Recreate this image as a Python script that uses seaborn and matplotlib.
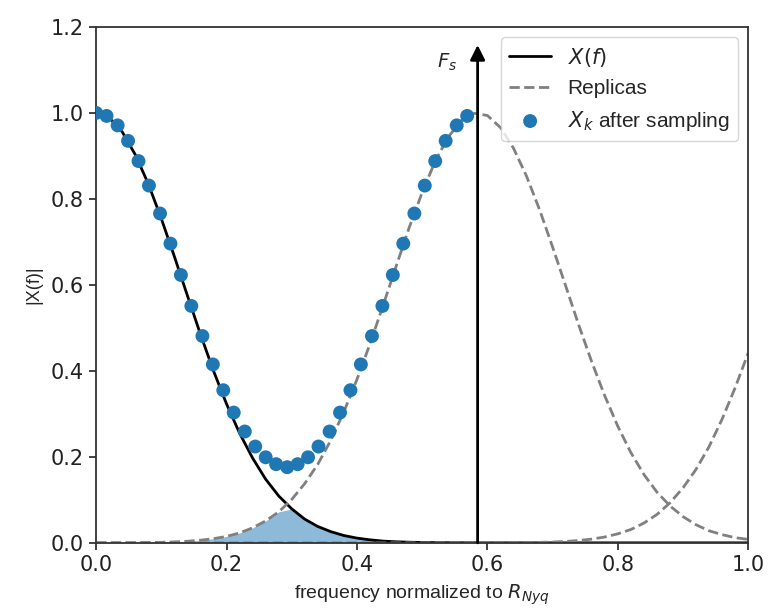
import numpy as np
import seaborn as sns
import matplotlib.pyplot as plt

# frequency grid for the continuous curves (normalized to R_Nyq)
freq = np.round(np.arange(0, 51) * 0.02, 2)

# |X(f)|
x_f = [1.000, 0.989, 0.956, 0.903, 0.835, 0.754, 0.666, 0.575, 0.485, 0.400,
       0.323, 0.255, 0.197, 0.148, 0.109, 0.079, 0.055, 0.038, 0.026, 0.017,
       0.011, 0.007, 0.004, 0.0025, 0.0015, 0.0009, 0.0005, 0.0003, 0.0002, 0.0001,
       0.0, 0.0, 0.0, 0.0, 0.0, 0.0, 0.0, 0.0, 0.0, 0.0,
       0.0, 0.0, 0.0, 0.0, 0.0, 0.0, 0.0, 0.0, 0.0, 0.0, 0.0]

# replica centred on Fs
replica_1 = [0.0001, 0.0001, 0.0002, 0.0004, 0.0007, 0.0013, 0.0022, 0.0037, 0.0061, 0.0097,
             0.015, 0.023, 0.035, 0.051, 0.072, 0.101, 0.138, 0.183, 0.239, 0.305,
             0.380, 0.463, 0.552, 0.643, 0.733, 0.815, 0.888, 0.944, 0.982, 0.999,
             0.994, 0.966, 0.918, 0.853, 0.775, 0.688, 0.598, 0.507, 0.421, 0.342,
             0.271, 0.210, 0.159, 0.118, 0.086, 0.061, 0.042, 0.028, 0.019, 0.012, 0.008]

# replica centred on 2*Fs
replica_2 = [0.0] * 30 + [
             0.0001, 0.0002, 0.0004, 0.0006, 0.0011, 0.0019, 0.0033, 0.0054, 0.0087, 0.0136,
             0.021, 0.031, 0.046, 0.066, 0.093, 0.128, 0.171, 0.224, 0.288, 0.361, 0.442]

# samples after sampling
fs = 0.585
sample_f = [0.0, 0.016, 0.033, 0.049, 0.065, 0.081, 0.098, 0.114, 0.130, 0.146,
            0.163, 0.179, 0.195, 0.211, 0.228, 0.244, 0.260, 0.276, 0.293, 0.309,
            0.325, 0.341, 0.358, 0.374, 0.390, 0.406, 0.423, 0.439, 0.455, 0.471,
            0.488, 0.504, 0.520, 0.536, 0.553, 0.569]
sample_x = [1.000, 0.993, 0.971, 0.935, 0.888, 0.831, 0.766, 0.696, 0.623, 0.551,
            0.481, 0.415, 0.355, 0.303, 0.259, 0.224, 0.199, 0.183, 0.176, 0.183,
            0.199, 0.224, 0.259, 0.303, 0.355, 0.415, 0.481, 0.551, 0.623, 0.696,
            0.766, 0.831, 0.888, 0.935, 0.971, 0.993]

sns.set_theme(style="ticks")
plt.rcParams['font.family'] = ['DejaVu Sans']

fig, ax = plt.subplots(figsize=(7.69, 6.12), dpi=100)
fig.subplots_adjust(left=0.125, right=0.973, top=0.956, bottom=0.113)

overlap = np.minimum(x_f, replica_1)
ax.fill_between(freq, 0, overlap, color="#1f77b4", alpha=0.5, lw=0)

sns.lineplot(x=freq, y=x_f, color="black", lw=2, label="$X(f)$", ax=ax)
sns.lineplot(x=freq, y=replica_1, color="gray", lw=2, linestyle="--", label="Replicas", ax=ax)
sns.lineplot(x=freq, y=replica_2, color="gray", lw=2, linestyle="--", ax=ax)
sns.scatterplot(x=sample_f, y=sample_x, color="#1f77b4", s=100, edgecolor="none",
                label="$X_k$ after sampling", ax=ax, zorder=3)

ax.annotate("", xy=(fs, 1.158), xytext=(fs, 0),
            arrowprops=dict(arrowstyle="-|>", color="black", lw=2, mutation_scale=22,
                            shrinkA=0, shrinkB=0))
ax.text(fs - 0.032, 1.118, "$F_s$", ha="right", va="center", fontsize=14)

ax.set_xlim(0, 1.0)
ax.set_ylim(0, 1.2)
ax.set_xticks([0, 0.2, 0.4, 0.6, 0.8, 1.0])
ax.set_yticks([0, 0.2, 0.4, 0.6, 0.8, 1.0, 1.2])
ax.tick_params(labelsize=15, colors="#222222", length=5, width=1.2, pad=4)
for s in ax.spines.values():
    s.set_color("#333333")
    s.set_linewidth(1.3)

ax.set_xlabel("frequency normalized to $R_{Nyq}$", fontsize=14,
              family="Liberation Sans", labelpad=5)
ax.set_ylabel("|X(f)|", fontsize=13, family="Liberation Sans", labelpad=6)
ax.legend(loc="upper right", prop={"family": "Liberation Sans", "size": 15})

fig.savefig("out.png", dpi=100)
